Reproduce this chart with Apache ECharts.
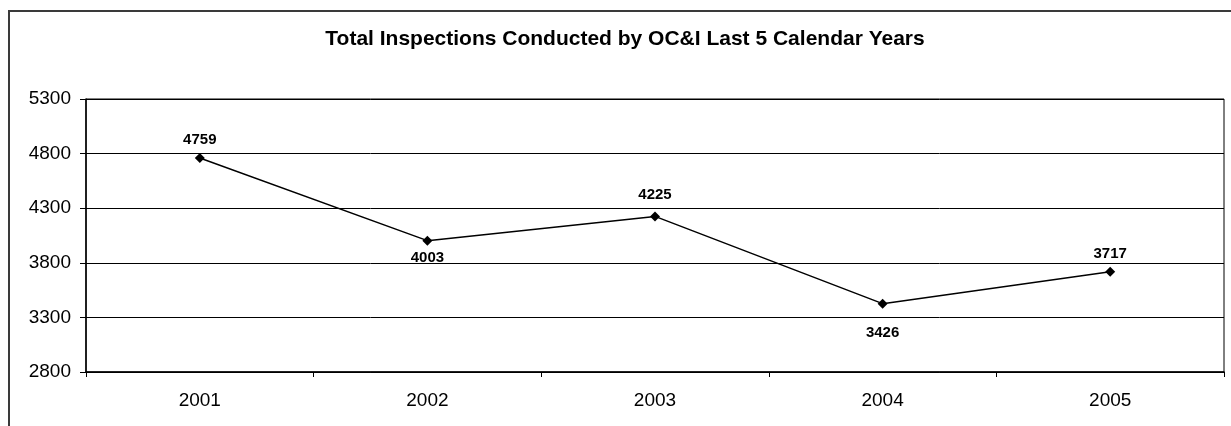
<!DOCTYPE html>
<html>
<head>
<meta charset="utf-8">
<script src="https://cdn.jsdelivr.net/npm/echarts@6/dist/echarts.min.js"></script>
<style>
  html, body { margin: 0; padding: 0; background: #fff; }
  #chart { width: 1231px; height: 426px; }
</style>
</head>
<body>
<div id="chart"></div>
<script>
// Calendar years and total inspections per year
const years = ['2001', '2002', '2003', '2004', '2005'];
const inspections = [4759, 4003, 4225, 3426, 3717];
const yTicks = [2800, 3300, 3800, 4300, 4800, 5300];

const FONT = '"Liberation Sans", Arial, sans-serif';

// Value labels sit above or below their point
const labelPlacement = [
  { position: 'top', distance: 6 },
  { position: 'bottom', distance: 5 },
  { position: 'top', distance: 9 },
  { position: 'bottom', distance: 17 },
  { position: 'top', distance: 6 }
];

const seriesData = inspections.map((v, i) => ({
  value: v,
  label: labelPlacement[i]
}));

const chart = echarts.init(document.getElementById('chart'), null, { renderer: 'canvas' });

chart.setOption({
  animation: false,
  backgroundColor: '#ffffff',
  title: {
    text: 'Total Inspections Conducted by OC&I Last 5 Calendar Years',
    left: 625,
    top: 29,
    padding: 0,
    textAlign: 'center',
    textStyle: { fontFamily: FONT, fontWeight: 'bold', fontSize: 21, color: '#000' }
  },
  graphic: [{
    type: 'rect',
    shape: { x: 9, y: 11, width: 1240, height: 440 },
    style: { fill: 'none', stroke: '#3a3a3a', lineWidth: 2 },
    silent: true,
    z: -1
  }],
  grid: {
    left: 86, right: 7, top: 99, bottom: 54,
    show: true,
    borderColor: '#000',
    borderWidth: 1,
    containLabel: false
  },
  xAxis: {
    type: 'category',
    data: years,
    boundaryGap: true,
    axisLine: { show: true, lineStyle: { color: '#000', width: 1.5 } },
    axisTick: { show: true, length: 5, alignWithLabel: false, lineStyle: { color: '#000' } },
    axisLabel: { fontFamily: FONT, fontSize: 19, color: '#000', margin: 19 },
    splitLine: { show: false }
  },
  yAxis: {
    type: 'value',
    min: yTicks[0],
    max: yTicks[yTicks.length - 1],
    interval: yTicks[1] - yTicks[0],
    axisLine: { show: true, lineStyle: { color: '#000', width: 1.5 } },
    axisTick: { show: true, length: 6, inside: false, lineStyle: { color: '#000' } },
    axisLabel: {
      fontFamily: FONT, fontSize: 19, color: '#000', margin: 15,
      formatter: (v) => String(v)
    },
    splitLine: { show: true, lineStyle: { color: '#000', width: 1 } }
  },
  series: [{
    type: 'line',
    data: seriesData,
    symbol: 'diamond',
    symbolSize: 10,
    itemStyle: { color: '#000' },
    lineStyle: { color: '#000', width: 1.5 },
    label: {
      show: true,
      fontFamily: FONT,
      fontWeight: 'bold',
      fontSize: 15,
      color: '#000'
    }
  }]
});
</script>
</body>
</html>
